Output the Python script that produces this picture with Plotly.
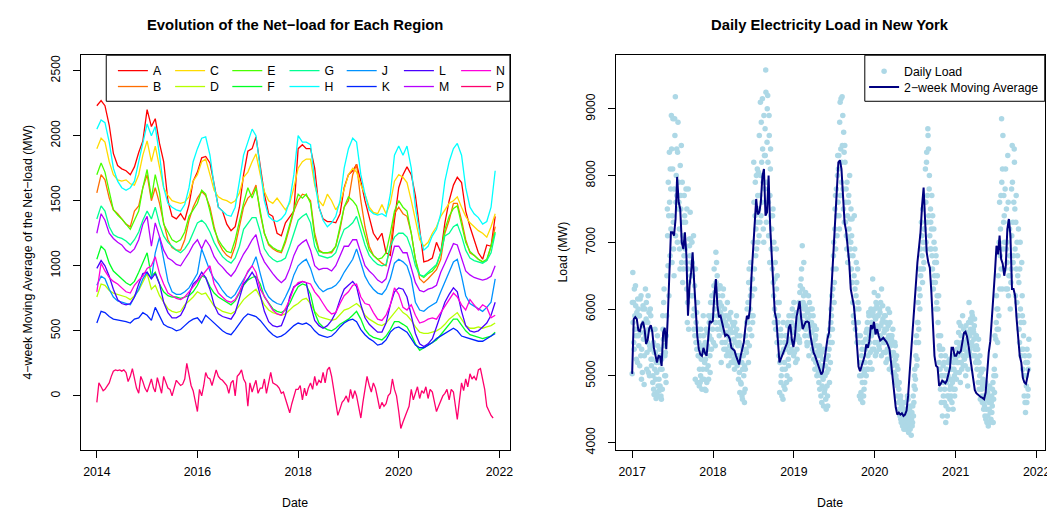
import pandas as pd
import plotly.graph_objects as go

FONT = "Liberation Sans, Arial, Helvetica, sans-serif"

# ---------------- Left panel: 4-week moving average of net-load (MW), monthly readings ----------------
month_dates = pd.date_range("2014-01-01", periods=96, freq="MS")

load_A = [2230, 2270, 2230, 2080, 1864, 1770, 1745, 1730, 1700, 1760, 1870, 1960,
          2200, 2070, 2130, 1940, 1800, 1500, 1380, 1360, 1400, 1350, 1470, 1650,
          1720, 1830, 1840, 1790, 1630, 1450, 1420, 1320, 1270, 1300, 1450, 1700,
          1880, 1900, 1990, 1750, 1550, 1400, 1380, 1250, 1230, 1330, 1380, 1420,
          1900, 1930, 1900, 1900, 1750, 1450, 1360, 1340, 1340, 1330, 1400, 1600,
          1700, 1730, 1780, 1650, 1500, 1380, 1250, 1200, 1250, 1100, 1080, 1350,
          1600, 1700, 1760, 1700, 1540, 1280, 1030, 1040, 1060, 1180, 1100, 1330,
          1500, 1620, 1680, 1640, 1420, 1300, 1200, 1100, 1050, 1160, 1150, 1380]
load_B = [1560, 1700, 1660, 1520, 1430, 1400, 1360, 1320, 1300, 1420, 1460, 1600,
          1700, 1500, 1600, 1480, 1330, 1200, 1140, 1120, 1120, 1200, 1350, 1450,
          1520, 1570, 1540, 1450, 1300, 1180, 1120, 1080, 1060, 1150, 1300, 1450,
          1520, 1550, 1620, 1400, 1250, 1160, 1130, 1110, 1100, 1180, 1300, 1420,
          1500, 1550, 1540, 1500, 1250, 1120, 1100, 1100, 1100, 1150, 1280, 1450,
          1500, 1700, 1780, 1500, 1300, 1150, 1080, 1050, 1020, 1000, 1150, 1400,
          1450, 1400, 1380, 1250, 1050, 900, 870, 900, 940, 970, 1050, 1250,
          1350, 1480, 1480, 1350, 1200, 1100, 1080, 1050, 1030, 1040, 1150, 1300]
load_C = [1900, 1980, 1950, 1800, 1700, 1660, 1650, 1660, 1630, 1620, 1700, 1850,
          1960, 1800, 1920, 1750, 1600, 1540, 1500, 1490, 1480, 1490, 1530, 1650,
          1700, 1800, 1820, 1700, 1580, 1530, 1510, 1500, 1480, 1500, 1560, 1680,
          1720, 1800, 1860, 1700, 1570, 1500, 1480, 1520, 1470, 1430, 1480, 1600,
          1750, 1800, 1820, 1820, 1620, 1500, 1460, 1550, 1500, 1430, 1480, 1580,
          1700, 1750, 1720, 1620, 1550, 1450, 1410, 1400, 1470, 1400, 1480, 1650,
          1700, 1680, 1640, 1500, 1350, 1200, 1150, 1180, 1250, 1300, 1380, 1430,
          1480, 1500, 1530, 1450, 1380, 1330, 1300, 1270, 1250, 1220, 1300, 1400]
load_D = [760, 860, 850, 810, 790, 780, 770, 760, 740, 770, 810, 880,
          940, 820, 850, 770, 720, 670, 650, 640, 650, 700, 730, 760,
          800, 780, 790, 740, 690, 670, 650, 640, 630, 650, 700, 740,
          770, 800, 820, 760, 700, 660, 640, 630, 620, 630, 660, 690,
          710, 740, 750, 710, 650, 610, 600, 590, 580, 590, 630, 660,
          670, 690, 710, 680, 620, 590, 570, 550, 540, 560, 600, 640,
          680, 640, 620, 580, 530, 490, 480, 480, 490, 500, 520, 550,
          590, 620, 640, 590, 540, 520, 520, 530, 520, 530, 540, 560]
load_E = [1700, 1790, 1720, 1560, 1430, 1390, 1360, 1320, 1280, 1350, 1420, 1600,
          1740, 1520, 1700, 1560, 1320, 1260, 1200, 1180, 1200, 1260, 1380, 1430,
          1480, 1580, 1550, 1420, 1280, 1200, 1150, 1110, 1100, 1200, 1350, 1480,
          1600, 1520, 1600, 1420, 1250, 1170, 1140, 1120, 1110, 1200, 1320, 1450,
          1550, 1520, 1550, 1480, 1220, 1110, 1100, 1100, 1110, 1150, 1300, 1450,
          1530, 1500, 1460, 1350, 1230, 1120, 1080, 1050, 1060, 1100, 1250, 1420,
          1500, 1450, 1420, 1250, 1050, 930, 910, 940, 960, 1000, 1100, 1280,
          1380, 1440, 1460, 1320, 1180, 1110, 1080, 1050, 1030, 1050, 1150, 1260]
load_F = [1050, 1150, 1120, 1020, 960, 930, 900, 870, 850, 880, 950, 1030,
          1100, 920, 950, 860, 800, 770, 760, 760, 750, 760, 770, 800,
          850, 920, 910, 840, 790, 760, 740, 720, 700, 730, 790, 850,
          890, 910, 920, 860, 760, 710, 670, 650, 640, 660, 710, 780,
          840, 860, 850, 780, 640, 560, 530, 510, 500, 520, 550, 570,
          590, 620, 650, 590, 510, 470, 450, 440, 430, 460, 510, 570,
          570, 550, 530, 470, 400, 350, 370, 390, 410, 430, 470, 510,
          550, 590, 590, 540, 500, 470, 460, 450, 440, 450, 460, 490]
load_G = [1360, 1460, 1420, 1300, 1240, 1220, 1210, 1190, 1160, 1200, 1260, 1350,
          1420, 1360, 1450, 1320, 1230, 1180, 1150, 1120, 1100, 1130, 1180, 1260,
          1330, 1350, 1320, 1260, 1180, 1120, 1070, 1040, 1020, 1060, 1150, 1280,
          1330, 1370, 1370, 1260, 1130, 1080, 1050, 1030, 1040, 1060, 1150, 1250,
          1350, 1380, 1400, 1330, 1150, 1080, 1070, 1060, 1070, 1100, 1200, 1280,
          1300, 1330, 1380, 1270, 1160, 1080, 1040, 1010, 1000, 1010, 1150, 1220,
          1250, 1250, 1220, 1130, 1000, 930, 920, 950, 980, 1010, 1100, 1230,
          1250, 1300, 1320, 1230, 1120, 1060, 1040, 1030, 1020, 1040, 1100, 1250]
load_H = [2050, 2120, 2100, 1950, 1750, 1650, 1600, 1580, 1600, 1650, 1800, 1950,
          2090, 2000, 2070, 1850, 1600, 1480, 1450, 1430, 1420, 1470, 1600, 1800,
          1900, 1980, 1990, 1850, 1620, 1450, 1420, 1390, 1380, 1450, 1650, 1850,
          1950, 2050, 2000, 1750, 1500, 1380, 1350, 1340, 1360, 1400, 1500, 1700,
          2000, 1950, 1950, 1930, 1650, 1450, 1350, 1300, 1330, 1380, 1500, 1750,
          1900, 1980, 1950, 1700, 1550, 1430, 1400, 1390, 1400, 1380, 1550, 1850,
          1920, 1850, 1920, 1750, 1450, 1250, 1120, 1150, 1230, 1280, 1400, 1650,
          1800, 1900, 1940, 1850, 1600, 1450, 1400, 1370, 1320, 1340, 1450, 1730]
load_J = [850, 920, 900, 820, 760, 730, 720, 710, 700, 760, 820, 900,
          950, 900, 1100, 1220, 1050, 880, 800, 780, 780, 800, 830, 880,
          940, 1130, 1050, 960, 900, 860, 810, 770, 750, 780, 840, 900,
          950, 1000, 1070, 940, 820, 760, 730, 710, 700, 760, 830, 930,
          1000, 1030, 1050, 980, 880, 830, 800, 820, 830, 850, 890, 950,
          1000, 1050, 1130, 1020, 920, 860, 820, 790, 780, 820, 900, 1020,
          1050, 1030, 1000, 900, 720, 660, 650, 680, 700, 720, 800, 880,
          950, 1030, 1050, 920, 770, 710, 690, 670, 650, 680, 720, 900]
load_K = [560, 650, 640, 610, 590, 585, 580, 570, 560, 590, 600, 640,
          620, 580, 680, 610, 550, 530, 520, 500, 510, 540, 570, 590,
          600, 560, 620, 590, 560, 530, 500, 480, 470, 510, 560, 600,
          630, 620, 610, 580, 540, 500, 470, 450, 460, 480, 510, 540,
          560, 550, 560, 540, 500, 470, 460, 450, 460, 490, 530, 560,
          580, 590, 570, 510, 470, 440, 420, 390, 400, 430, 490, 520,
          530, 510, 490, 440, 390, 370, 370, 390, 410, 440, 460, 480,
          500, 520, 500, 460, 450, 440, 430, 420, 420, 440, 460, 480]
load_L = [980, 1040, 1000, 920, 820, 740, 710, 700, 710, 760, 860, 940,
          950, 900, 940, 860, 720, 640, 600, 600, 620, 680, 780, 860,
          890, 950, 910, 820, 700, 630, 610, 600, 590, 640, 760, 860,
          900, 950, 900, 780, 650, 570, 540, 530, 540, 620, 760, 840,
          860, 880, 870, 700, 580, 540, 520, 540, 580, 640, 740, 820,
          850, 880, 840, 700, 600, 550, 520, 490, 490, 560, 700, 800,
          830, 820, 760, 620, 480, 400, 380, 400, 440, 530, 630, 720,
          780, 830, 800, 650, 540, 500, 490, 500, 530, 560, 620, 720]
load_M = [1250, 1400, 1350, 1250, 1210, 1180, 1160, 1120, 1100, 1130, 1200, 1320,
          1380, 1150, 1330, 1230, 1120, 1060, 1040, 1010, 1000, 1050, 1100, 1160,
          1200, 1130, 1200, 1150, 1070, 1020, 990, 950, 920, 960, 1030, 1090,
          1140, 1200, 1240, 1100, 1030, 980, 940, 900, 870, 900, 980, 1080,
          1150, 1180, 1200, 1120, 1000, 970, 980, 980, 960, 1000, 1080, 1150,
          1150, 1200, 1200, 1100, 1000, 960, 930, 890, 870, 900, 1020, 1150,
          1150, 1100, 1100, 980, 870, 810, 800, 820, 830, 850, 950, 1020,
          1100, 1170, 1160, 1050, 960, 930, 910, 900, 890, 900, 920, 1000]
load_N = [800, 1020, 960, 910, 880, 860, 830, 800, 790, 850, 890, 920,
          980, 1000, 1070, 940, 860, 790, 770, 750, 740, 760, 800, 840,
          880, 920, 960, 1000, 860, 790, 760, 730, 720, 740, 800, 880,
          960, 1000, 950, 820, 760, 710, 660, 630, 620, 670, 740, 830,
          870, 880, 870, 860, 800, 760, 710, 660, 630, 640, 710, 770,
          800, 850, 860, 760, 710, 700, 640, 590, 580, 620, 700, 830,
          780, 680, 660, 700, 620, 560, 570, 590, 600, 590, 640, 690,
          740, 790, 760, 700, 660, 740, 700, 660, 700, 680, 600, 620]

# Region P is read at a finer (half-month) step: 1st and 16th of each month
p_dates = [d for m in month_dates for d in (m, m + pd.Timedelta(days=15))][:190]
load_P = [-50, 100, 70, 40, 50, 70, 100, 150, 190, 200, 195, 200, 190, 200, 180, 110, 150, 210, 130, 60, 20, 150, 110, 60,
          30, 80, 130, 60, 30, 140, 80, 20, 150, 100, 60, 50, 0, 60, 120, 100, 80, 90, 130, 250, 160, 80, 40, -50,
          -120, 50, 0, 80, 180, 140, 130, 80, 140, 200, 150, 130, 120, 100, 80, 20, 100, 120, 0, 150, 170, 200, 130, 100,
          -80, 100, 30, 80, 120, 20, 60, 60, 130, 20, 100, 180, 100, 90, 80, 60, 20, 30, -20, -80, -130, -60, 0, 50,
          50, 80, -30, 60, 0, 60, 100, 50, 150, 80, 120, 100, 180, 100, 200, 220, 150, 50, -80, -150, -100, -50, -30, 0,
          -50, 50, -20, 40, 0, -80, -170, -50, 60, 150, 80, 30, 100, 60, -20, -100, -50, -80, -60, 0, 20, 130, 50, 0,
          -120, -250, -200, -150, -120, -80, 50, -30, 30, 70, -20, 40, 20, 70, -20, 50, 30, -40, -120, -80, -40, 0, 20, 50,
          -30, 50, 30, -70, -180, -40, 100, 40, 130, 70, 170, 130, 150, 120, 200, 210, 130, 50, -80, -120, -150, -170]

regions = ["A", "B", "C", "D", "E", "F", "G", "H", "J", "K", "L", "M", "N", "P"]
region_colors = ["#FF0000", "#FF6D00", "#FFDB00", "#B6FF00", "#49FF00", "#00FF24", "#00FF92",
                 "#00FFFF", "#0092FF", "#0024FF", "#4900FF", "#B600FF", "#FF00DB", "#FF006D"]
region_values = [load_A, load_B, load_C, load_D, load_E, load_F, load_G, load_H,
                 load_J, load_K, load_L, load_M, load_N, load_P]
left_x_ticks = ["2014", "2016", "2018", "2020", "2022"]
left_y_ticks = [0, 500, 1000, 1500, 2000, 2500]

# ---------------- Right panel: New York daily load ----------------
ma_dates = pd.date_range("2017-01-01", periods=257, freq="7D")
ma_values = [5030, 5850, 5880, 5850, 5680, 5670, 5770, 5810, 5700, 5480,
             5540, 5710, 5760, 5660, 5420, 5290, 5200, 5300, 5290, 5150,
             5650, 5720, 5400, 5900, 6600, 7150, 7150, 7100, 7350, 7980,
             7600, 7500, 7000, 6900, 7150, 6800, 5900, 6350, 6550, 6850,
             6400, 5900, 5600, 5400, 5320, 5300, 5420, 5340, 5300, 5550,
             5820, 5800, 5820, 6200, 6450, 6050, 5880, 5900, 5800, 5720,
             5600, 5620, 5600, 5550, 5420, 5400, 5380, 5300, 5220, 5170,
             5300, 5420, 5500, 5720, 5900, 5850, 6000, 6500, 6900, 7300,
             7650, 7420, 7450, 7600, 7990, 8100, 7400, 7450, 8000, 7250,
             6750, 6400, 5950, 5850, 5550, 5200, 5260, 5320, 5380, 5450,
             5500, 5720, 5770, 5540, 5430, 5600, 5880, 6000, 6120, 5870,
             5700, 5760, 5810, 5815, 5800, 5600, 5450, 5350, 5300, 5220,
             5150, 5080, 5020, 5060, 5230, 5400, 5560, 5650, 6100, 6550,
             7000, 7500, 7800, 8200, 8230, 8100, 7700, 7300, 7170, 6980,
             6700, 6300, 6180, 6050, 5800, 5380, 5140, 5070, 5150, 5230,
             5300, 5470, 5420, 5520, 5760, 5700, 5810, 5620, 5700, 5600,
             5530, 5550, 5570, 5540, 5510, 5460, 5400, 5200, 4960, 4720,
             4530, 4420, 4450, 4420, 4440, 4400, 4420, 4480, 4700, 5050,
             5400, 5600, 5980, 6450, 6700, 6920, 7150, 7550, 7820, 7300,
             6850, 6700, 6620, 6250, 5750, 5300, 5150, 5130, 4850, 4880,
             4930, 4910, 4890, 4930, 5020, 5120, 5420, 5420, 5300, 5300,
             5360, 5340, 5370, 5500, 5640, 5660, 5590, 5450, 5300, 5120,
             4940, 4790, 4740, 4720, 4690, 4680, 4670, 4650, 4750, 5100,
             5350, 5520, 5950, 6200, 6550, 6950, 6820, 7100, 6750, 6680,
             6500, 6650, 7200, 7350, 7100, 6300, 6300, 6200, 5850, 5500,
             5300, 5200, 4970, 4900, 4880, 4990, 5110]

# daily readings, two interleaved sets (every 3rd day starting Jan 1 and Jan 2, 2017)
daily_dates_a = pd.date_range("2017-01-01", periods=598, freq="3D")
daily_load_a = [5030, 6550, 6100, 5400, 5900, 6350, 5600, 5950, 5200, 6000,
                5450, 5900, 6150, 5300, 4950, 5750, 6000, 5550, 4870, 5650,
                6300, 5850, 5100, 5500, 6200, 5700, 5000, 5400, 5900, 5150,
                5250, 4900, 5500, 4720, 5100, 5350, 4660, 5050, 5600, 4850,
                5200, 4780, 4850, 5300, 4650, 5100, 5900, 5550, 6300, 5000,
                5350, 4900, 5900, 7500, 6650, 7400, 8350, 6800, 7800, 8900,
                6700, 8100, 7300, 6500, 8850, 9180, 7600, 8400, 7000, 8800,
                7900, 7200, 6600, 7700, 8450, 7000, 6400, 7300, 6800, 7400,
                6900, 7800, 6300, 5800, 6600, 5700, 7050, 6800, 7050, 6200,
                7000, 6500, 5900, 5700, 6350, 4950, 5500, 5950, 4900, 5700,
                5300, 4850, 5600, 5000, 5250, 4800, 5450, 5900, 4950, 5200,
                5500, 4780, 5100, 5650, 5400, 4950, 5800, 5300, 6100, 5550,
                6200, 5700, 5900, 6350, 6000, 5450, 6850, 6700, 6500, 5900,
                6300, 5600, 6100, 5950, 5200, 5750, 6200, 5850, 5400, 6000,
                5500, 5900, 5300, 5750, 5600, 5150, 5850, 5450, 5700, 5200,
                5400, 5800, 5200, 5550, 5100, 5650, 5300, 5900, 5150, 5450,
                4950, 5500, 4750, 5300, 4880, 5200, 4650, 5400, 5000, 4600,
                4800, 5600, 5350, 6000, 5800, 5200, 6600, 5700, 6200, 5900,
                5600, 6450, 5900, 8200, 6600, 7400, 6800, 8000, 7300, 7700,
                8050, 7100, 7700, 9100, 7400, 8200, 9150, 7900, 7000, 8300,
                8700, 9580, 7300, 8500, 9200, 7600, 8900, 6700, 8100, 7400,
                7200, 6600, 7500, 6200, 5800, 6450, 5700, 6900, 5500, 6100,
                5900, 5300, 4750, 5500, 4900, 5600, 5100, 4650, 5400, 5200,
                4800, 5400, 5600, 5000, 5750, 5250, 5900, 5350, 5500, 5700,
                5800, 6000, 5500, 5300, 5900, 5650, 5200, 5750, 5400, 5600,
                5700, 6100, 5500, 6350, 5900, 6600, 6950, 5800, 6200, 6000,
                5600, 6250, 5750, 5500, 5950, 5800, 5300, 6100, 5900, 5650,
                5800, 6000, 5500, 5350, 5700, 5100, 5600, 5450, 5000, 5300,
                5200, 4900, 5450, 5100, 4700, 5350, 4850, 5250, 4550, 5000,
                4800, 5150, 4500, 5050, 4700, 5300, 5600, 4900, 5500, 5800,
                5900, 5500, 6300, 6800, 6100, 7200, 7700, 6600, 7400, 8000,
                7600, 8300, 7200, 9100, 8400, 7900, 9180, 8900, 7500, 8350,
                8450, 7300, 7800, 6900, 7400, 7050, 7700, 6800, 7350, 7000,
                6600, 7350, 6100, 5900, 6500, 6900, 5700, 6200, 6400, 5600,
                6100, 5500, 4700, 5200, 4650, 5000, 5400, 4600, 5100, 4800,
                4900, 5400, 5650, 5100, 5800, 5300, 5950, 5500, 5200, 5700,
                5600, 5100, 6450, 5900, 5400, 6000, 5300, 6100, 5750, 5500,
                6200, 5700, 5400, 5950, 6100, 5300, 5800, 6050, 5500, 5650,
                5500, 5900, 5200, 5700, 5400, 6000, 5600, 5100, 5800, 5450,
                5300, 5600, 5050, 5500, 5200, 4900, 5450, 5000, 5300, 4700,
                5100, 4600, 4900, 4400, 4700, 4300, 4550, 4250, 4450, 4200,
                4350, 4600, 4200, 4500, 4300, 4650, 4150, 4400, 4250, 4550,
                4110, 4450, 4300, 4700, 4600, 5000, 4800, 5300, 5600, 5250,
                5800, 5500, 6300, 6000, 6900, 6600, 7100, 6400, 7000, 6700,
                7200, 6900, 7600, 8200, 7300, 8700, 8400, 7800, 7100, 7500,
                6900, 7700, 6600, 6400, 7200, 6500, 6900, 6000, 6700, 6200,
                6000, 5600, 5200, 5400, 4800, 5300, 5000, 4400, 5150, 4900,
                4600, 5000, 4300, 4900, 4700, 5200, 4500, 4950, 4800, 5100,
                4700, 5100, 4900, 4500, 5200, 5000, 4800, 5300, 4950, 5400,
                5500, 5200, 5800, 5350, 4900, 5600, 5100, 5450, 5300, 5700,
                5250, 5500, 5000, 5650, 5350, 4850, 5500, 6100, 5400, 5700,
                5800, 5500, 5900, 5300, 5650, 5750, 5400, 5200, 5600, 5100,
                5400, 4900, 5200, 5000, 4650, 5100, 4800, 4600, 4950, 4500,
                4700, 4400, 4900, 4500, 4300, 4750, 4250, 4600, 4850, 4450,
                4350, 4700, 4550, 4900, 4650, 5100, 5600, 5000, 5800, 6000,
                5500, 6500, 5900, 7600, 6800, 7700, 8850, 6300, 8600, 7300,
                7400, 6600, 8100, 6900, 7000, 6300, 7600, 6500, 7200, 6000,
                6400, 7800, 8450, 7300, 6800, 8400, 7500, 6200, 7700, 6100,
                6800, 5900, 6400, 5500, 7000, 5800, 5400, 6200, 5100, 5600,
                4700, 5300, 4450, 5000, 4600, 5200, 4800, 5550]
daily_dates_b = pd.date_range("2017-01-02", periods=598, freq="3D")
daily_load_b = [6100, 5800, 5500, 6300, 5700, 6050, 5250, 5900, 6150, 5600,
                5900, 5150, 5650, 6200, 5400, 5050, 6050, 5800, 5300, 6000,
                5600, 6100, 5350, 5800, 5050, 5950, 5450, 6000, 5250, 5700,
                5450, 5000, 4800, 5350, 5700, 4950, 5200, 4750, 5450, 4700,
                4950, 5400, 5100, 4700, 5250, 4800, 5700, 6100, 5450, 5300,
                5000, 5600, 6500, 7100, 7900, 6200, 7600, 8100, 7200, 8400,
                7400, 8850, 6900, 7800, 8600, 7100, 8000, 7700, 8350, 7500,
                7600, 6900, 8150, 7500, 6700, 7900, 7100, 6600, 7700, 6950,
                7300, 6700, 7500, 6100, 7800, 6400, 6950, 7450, 6500, 6700,
                6700, 6200, 7100, 6000, 5600, 6600, 5800, 5400, 6100, 5300,
                5500, 5100, 4900, 5700, 5400, 4950, 5100, 5600, 5350, 4800,
                5250, 5700, 4900, 5450, 5150, 5900, 5600, 5050, 5850, 5400,
                5900, 6100, 5500, 6600, 6250, 5800, 6400, 6100, 5700, 6200,
                6000, 5800, 6350, 5700, 6050, 5500, 5900, 6300, 5650, 5800,
                5800, 5400, 5650, 6100, 5350, 5900, 5550, 5300, 5950, 5450,
                5650, 5350, 5750, 5250, 5800, 5500, 5200, 5700, 5600, 5300,
                5250, 5050, 5600, 4900, 5450, 4700, 5100, 5300, 4750, 5150,
                5100, 5400, 5800, 5500, 6100, 6400, 5450, 6000, 6700, 6300,
                6200, 5800, 7000, 7600, 6300, 7900, 7200, 6900, 8100, 7000,
                7500, 8600, 7300, 8000, 8800, 7600, 8400, 7200, 8900, 7800,
                8300, 9250, 7900, 9000, 8200, 7100, 8600, 7700, 8400, 6900,
                6900, 7400, 6400, 7000, 6000, 6700, 5900, 6300, 6500, 5800,
                5600, 6100, 5200, 5700, 5000, 4700, 5350, 5800, 4850, 5500,
                5100, 5600, 4900, 5450, 5800, 5150, 5550, 4950, 5700, 5400,
                5500, 5900, 5650, 6100, 5350, 5750, 5550, 5950, 5250, 5800,
                5850, 5550, 6250, 6050, 6450, 5750, 6300, 6100, 6700, 5900,
                6050, 5700, 6000, 5450, 5850, 6200, 5600, 5750, 6000, 5500,
                5650, 5400, 5900, 5250, 5750, 5550, 5200, 5700, 5350, 5150,
                5050, 5400, 4800, 5300, 5000, 4600, 5150, 4950, 5400, 4750,
                5000, 4650, 5250, 4850, 4550, 5100, 5400, 5700, 5200, 6000,
                6200, 5700, 6600, 7000, 6400, 7500, 6900, 7800, 7100, 8300,
                8100, 7400, 8800, 7700, 9150, 8200, 8450, 7800, 8650, 7300,
                8200, 7600, 7100, 7900, 6700, 7600, 7200, 8000, 6900, 7500,
                7100, 6400, 6800, 5800, 7400, 6300, 6000, 6700, 5500, 6600,
                5800, 6000, 5000, 5600, 4750, 5300, 4900, 5500, 4700, 5050,
                5200, 5550, 5000, 5700, 5450, 5100, 5900, 5600, 5350, 6000,
                5800, 5400, 5950, 5650, 6250, 5500, 5850, 5350, 6050, 5900,
                5900, 5450, 6000, 5600, 5750, 6300, 5550, 5850, 5350, 5900,
                5700, 5350, 5800, 5550, 5250, 5750, 5500, 5950, 5350, 5600,
                5550, 5150, 5700, 5350, 5050, 5500, 5250, 4950, 5150, 4850,
                4900, 4800, 4500, 4650, 4350, 4550, 4400, 4600, 4300, 4450,
                4500, 4250, 4400, 4350, 4700, 4450, 4300, 4500, 4200, 4400,
                4350, 4250, 4550, 4400, 4850, 5100, 4950, 5500, 5150, 5800,
                6100, 5700, 6600, 6200, 6500, 7300, 6800, 7500, 6600, 7200,
                7600, 8100, 7000, 8350, 7700, 8600, 7400, 8000, 6900, 7300,
                7200, 6800, 7400, 6300, 7000, 6700, 6400, 6800, 6100, 6500,
                5800, 6200, 5450, 5100, 5600, 4600, 5000, 5400, 4700, 5200,
                4800, 5300, 4550, 5100, 4400, 5000, 4700, 5250, 4650, 4850,
                4950, 4600, 5300, 4800, 5100, 4700, 5250, 5050, 5500, 5200,
                5300, 5650, 5050, 5450, 5750, 5200, 5500, 5900, 5150, 5400,
                5450, 5150, 5750, 5300, 5550, 5100, 5800, 5350, 5600, 5850,
                5650, 5950, 5450, 5700, 5550, 5850, 5300, 5600, 5450, 5250,
                5200, 5550, 4800, 5300, 4900, 5050, 4700, 4850, 5100, 4600,
                4550, 4850, 4350, 4650, 4800, 4400, 4700, 4500, 4300, 4650,
                4600, 4450, 4800, 4300, 5000, 4750, 5300, 5550, 6200, 5700,
                6000, 5700, 7000, 6300, 7200, 6600, 7900, 8100, 6900, 7700,
                7000, 7800, 6300, 7500, 6700, 8300, 6200, 7300, 6800, 6500,
                6600, 7100, 7900, 6700, 7600, 8200, 6900, 7300, 6600, 7000,
                6500, 7200, 5700, 6600, 6000, 5300, 6700, 5900, 5400, 5800,
                5000, 4600, 5200, 4850, 5400, 4700, 5100, 5300]
right_x_ticks = ["2017", "2018", "2019", "2020", "2021", "2022"]
right_y_ticks = [4000, 5000, 6000, 7000, 8000, 9000]

# ---------------- Figure ----------------
fig = go.Figure()

row1 = {"A", "C", "E", "G", "J", "L", "N"}
for name, col, vals in zip(regions, region_colors, region_values):
    xs = p_dates if name == "P" else month_dates
    fig.add_trace(go.Scatter(
        x=xs, y=vals, mode="lines", name=name,
        line=dict(color=col, width=1.3),
        xaxis="x", yaxis="y",
        legend="legend" if name in row1 else "legend2",
    ))

fig.add_trace(go.Scatter(
    x=list(daily_dates_a) + list(daily_dates_b), y=daily_load_a + daily_load_b,
    mode="markers", name="Daily Load",
    marker=dict(color="#ADD8E6", size=5.5, line=dict(width=0)),
    xaxis="x2", yaxis="y2", legend="legend3",
))
fig.add_trace(go.Scatter(
    x=ma_dates, y=ma_values, mode="lines", name="2\u2212week Moving Average",
    line=dict(color="#000080", width=2),
    xaxis="x2", yaxis="y2", legend="legend4",
))

W, H = 1055, 511
def px_x(p):
    return p / W
def px_y(p):
    return 1 - p / H

box_top, box_bottom = 47.7, 446.0
L_left, L_right = 73.4, 504.8
R_left, R_right = 611.7, 1042.7

tickfont = dict(family=FONT, size=12.3, color="black")
common_axis = dict(showline=True, linecolor="black", linewidth=1, mirror=True,
                   ticks="outside", ticklen=7, tickwidth=1, tickcolor="black",
                   showgrid=False, zeroline=False, tickfont=tickfont)

fig.update_layout(
    width=W, height=H, autosize=False,
    margin=dict(l=0, r=0, t=0, b=0),
    paper_bgcolor="white", plot_bgcolor="white",
    font=dict(family=FONT, size=12.3, color="black"),
    xaxis=dict(domain=[px_x(L_left), px_x(L_right)], anchor="y", type="date",
               range=["2013-09-08", "2022-03-18"],
               tickvals=[f"{t}-01-01" for t in left_x_ticks], ticktext=left_x_ticks,
               ticklabelstandoff=4, **common_axis),
    yaxis=dict(domain=[px_y(box_bottom), px_y(box_top)], anchor="x",
               range=[-413, 2618], tickvals=left_y_ticks,
               ticktext=[str(v) for v in left_y_ticks], tickangle=-90,
               ticklabelstandoff=8, **common_axis),
    xaxis2=dict(domain=[px_x(R_left), px_x(R_right)], anchor="y2", type="date",
                range=["2016-10-21", "2022-02-07"],
                tickvals=[f"{t}-01-01" for t in right_x_ticks], ticktext=right_x_ticks,
                ticklabelstandoff=4, **common_axis),
    yaxis2=dict(domain=[px_y(box_bottom), px_y(box_top)], anchor="x2",
                range=[3895, 9803], tickvals=right_y_ticks,
                ticktext=[str(v) for v in right_y_ticks], tickangle=-90,
                ticklabelstandoff=8, **common_axis),
    showlegend=True,
)

leg_common = dict(orientation="h", xanchor="left", yanchor="middle",
                  bgcolor="rgba(0,0,0,0)", borderwidth=0,
                  font=dict(family=FONT, size=12.3, color="black"),
                  itemwidth=30, traceorder="normal",
                  itemclick=False, itemdoubleclick=False)
fig.update_layout(
    legend=dict(x=px_x(105.5), y=px_y(63.3), entrywidth=12.2, entrywidthmode="pixels", **leg_common),
    legend2=dict(x=px_x(105.5), y=px_y(79.3), entrywidth=12.2, entrywidthmode="pixels", **leg_common),
    legend3=dict(x=px_x(861), y=px_y(63.8), **leg_common),
    legend4=dict(x=px_x(861), y=px_y(79.8), **leg_common),
)

# legend frames (white boxes at the top-right of each plot box)
fig.add_shape(type="rect", xref="paper", yref="paper",
              x0=px_x(98.8), x1=px_x(L_right), y0=px_y(94.2), y1=px_y(box_top),
              line=dict(color="black", width=1), fillcolor="white", layer="above")
fig.add_shape(type="rect", xref="paper", yref="paper",
              x0=px_x(861.7), x1=px_x(R_right), y0=px_y(94.2), y1=px_y(box_top),
              line=dict(color="black", width=1), fillcolor="white", layer="above")

ann = []
cx_left = px_x((L_left + L_right) / 2)
cx_right = px_x((R_left + R_right) / 2)
cy_mid = px_y((box_top + box_bottom) / 2)
ann.append(dict(text="<b>Evolution of the Net\u2212load for Each Region</b>", x=cx_left, y=px_y(16.7),
                font=dict(family=FONT, size=14.8, color="black")))
ann.append(dict(text="<b>Daily Electricity Load in New York</b>", x=cx_right, y=px_y(16.7),
                font=dict(family=FONT, size=14.8, color="black")))
ann.append(dict(text="Date", x=cx_left, y=px_y(500), font=dict(family=FONT, size=12.3, color="black")))
ann.append(dict(text="Date", x=cx_right, y=px_y(500), font=dict(family=FONT, size=12.3, color="black")))
ann.append(dict(text="4\u2212week Moving Average of the Net\u2212load (MW)", x=px_x(20.2), y=cy_mid,
                textangle=-90, font=dict(family=FONT, size=12.3, color="black")))
ann.append(dict(text="Load (MW)", x=px_x(558.3), y=cy_mid,
                textangle=-90, font=dict(family=FONT, size=12.3, color="black")))
for a in ann:
    a.update(xref="paper", yref="paper", xanchor="center", yanchor="middle", showarrow=False)
fig.update_layout(annotations=ann)

fig.write_html("out.html")
